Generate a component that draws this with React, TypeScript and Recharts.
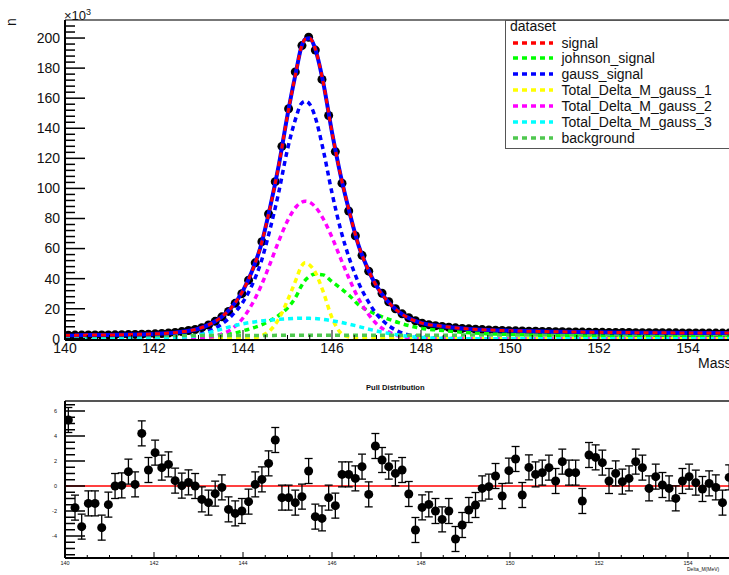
import { ComposedChart, Line, Scatter, XAxis, YAxis, ReferenceLine, ErrorBar } from 'recharts'

const FONT = '"Liberation Sans", Arial, Helvetica, sans-serif'

// Fit components sampled along Mass, n in units of 10^3
const curveMass = [
  140, 140.5, 141, 141.5, 142, 142.5, 143, 143.25, 143.5, 143.75,
  144, 144.2, 144.4, 144.6, 144.8, 145, 145.2, 145.3, 145.4, 145.5,
  145.6, 145.8, 146, 146.2, 146.4, 146.6, 146.8, 147, 147.25, 147.5,
  147.75, 148, 148.5, 149, 149.5, 150, 151, 152, 153, 154, 155,
]
const signalCurve = [
  2.4, 2.45, 2.55, 2.85, 3.25, 4.25, 6.7, 9.6, 14.1, 21.15,
  32.05, 44.75, 61.75, 86.25, 114.8, 148.8, 178.8, 192.8, 199.3, 199.8,
  194.8, 170.8, 137.3, 107.85, 83.35, 61.85, 46.85, 35.05, 24.95, 17.9,
  13.4, 10.6, 8.2, 6.75, 5.85, 5.35, 4.7, 4.3, 4.05, 3.9, 3.8,
]
const johnsonCurve = [
  0.3, 0.35, 0.45, 0.6, 0.8, 1.2, 1.7, 2.1, 2.6, 3.4,
  5.3, 7, 9, 12, 15.5, 20.5, 28.5, 34.5, 39, 41.5,
  43, 42.5, 38, 33.5, 28.5, 22.5, 19, 16.2, 13.3, 10.7,
  8.6, 7.0, 5.5, 4.2, 3.4, 2.9, 2.2, 1.8, 1.5, 1.35, 1.2,
]
const gaussSignalCurve = [
  0, 0, 0, 0.1, 0.3, 0.85, 2.8, 5.3, 9.3, 15.5,
  24.5, 35.5, 50.5, 72, 97, 126, 148, 156, 158, 156,
  149.5, 126, 97, 72, 52.5, 37, 25.5, 16.5, 9.3, 4.8,
  2.4, 1.2, 0.3, 0.1, 0, 0, 0, 0, 0, 0, 0,
]
const gauss1Curve = [
  0, 0, 0, 0, 0, 0, 0, 0, 0, 0,
  0.1, 0.4, 1.8, 5.3, 13, 25.5, 40, 47.5, 50.5, 49,
  45.5, 31.5, 14, 3.8, 1.0, 0.2, 0, 0, 0, 0,
  0, 0, 0, 0, 0, 0, 0, 0, 0, 0, 0,
]
const gauss2Curve = [
  0, 0, 0, 0, 0, 0.05, 0.4, 1.1, 2.8, 6.6,
  13.8, 22.8, 34.8, 49.3, 64.7, 78.4, 88, 90.5, 91.5, 90.8,
  88.5, 80, 67.5, 53, 39, 26.5, 17, 10, 4.8, 2.0,
  0.8, 0.3, 0.05, 0, 0, 0, 0, 0, 0, 0, 0,
]
const gauss3Curve = [
  0, 0, 0, 0.1, 0.3, 0.8, 2.4, 4.2, 6.3, 8.3,
  10, 11, 11.8, 12.4, 12.9, 13.3, 13.6, 13.7, 13.7, 13.6,
  13.5, 12.9, 12, 10.9, 9.6, 8.2, 6.6, 5.2, 3.7, 2.5,
  1.5, 0.9, 0.3, 0.1, 0, 0, 0, 0, 0, 0, 0,
]
const backgroundCurve = [
  2.1, 2.1, 2.1, 2.15, 2.15, 2.2, 2.2, 2.2, 2.2, 2.25,
  2.25, 2.25, 2.25, 2.25, 2.3, 2.3, 2.3, 2.3, 2.3, 2.3,
  2.3, 2.3, 2.3, 2.35, 2.35, 2.35, 2.35, 2.35, 2.35, 2.4,
  2.4, 2.4, 2.4, 2.45, 2.45, 2.45, 2.5, 2.5, 2.55, 2.55, 2.6,
]

// Histogram: 100 bins of 0.15 between 140 and 155
const BIN_START = 140
const BIN_WIDTH = 0.15
const binCounts = [
  2.4, 2.45, 2.45, 2.5, 2.5, 2.55, 2.6, 2.65, 2.75, 2.8,
  2.9, 3.0, 3.1, 3.3, 3.5, 3.8, 4.2, 4.8, 5.5, 6.2,
  7.4, 9.2, 11.6, 14.6, 18.2, 23.6, 30.0, 39.0, 50.5, 64.6,
  83.0, 104.5, 128.0, 153.0, 177.5, 195.0, 200.5, 192.0, 172.5, 148.5,
  124.5, 103.5, 85.0, 68.5, 55.5, 45.0, 36.8, 30.3, 24.6, 20.0,
  16.6, 14.0, 12.0, 10.4, 9.4, 8.7, 8.2, 7.7, 7.3, 6.9,
  6.6, 6.35, 6.1, 5.9, 5.7, 5.55, 5.4, 5.3, 5.2, 5.1,
  5.0, 4.9, 4.8, 4.7, 4.65, 4.6, 4.5, 4.45, 4.4, 4.35,
  4.3, 4.25, 4.2, 4.2, 4.15, 4.1, 4.1, 4.05, 4.0, 4.0,
  3.95, 3.95, 3.9, 3.9, 3.85, 3.85, 3.8, 3.8, 3.8, 3.8,
]
const pulls = [
  5.28, -1.73, -3.25, -1.39, -1.39, -3.33, -1.49, 0.0, 0.05, 1.15,
  0.13, 4.21, 1.28, 2.67, 1.47, 1.73, 0.43, 0.03, 0.29, 0.0,
  -1.07, -1.33, -0.61, -0.11, -1.87, -2.19, -2.0, -1.25, 0.13, 0.53,
  1.81, 3.68, -0.93, -0.93, -1.33, -0.85, 1.2, -2.45, -2.59, -0.93,
  -1.57, 0.93, 0.93, 0.61, 1.55, -0.67, 3.2, 2.08, 1.55, 1.01,
  1.28, -0.64, -3.52, -1.71, -1.47, -2.0, -2.67, -2.0, -4.24, -3.12,
  -1.92, -1.52, -0.19, -0.05, 0.8, -0.8, 1.23, 2.16, -0.72, 1.49,
  0.93, 1.07, 1.47, 0.4, 1.95, 1.07, 1.07, -1.2, 2.48, 2.29,
  1.87, 0.4, 1.01, 0.35, 0.61, 1.95, 1.47, -0.19, 0.75, 0.08,
  -0.19, -0.99, 0.4, 0.75, 0.27, -0.24, 0.21, -0.11, -1.33, 0.69,
]

const massLabels = [140, 142, 144, 146, 148, 150, 152, 154]
const countLabels = [0, 20, 40, 60, 80, 100, 120, 140, 160, 180, 200]
const pullLabels = [-4, -2, 0, 2, 4, 6]

const series = [
  { key: 'signal', name: 'signal', color: '#ff0000' },
  { key: 'johnson', name: 'johnson_signal', color: '#00ff00' },
  { key: 'gauss', name: 'gauss_signal', color: '#0000ff' },
  { key: 'g1', name: 'Total_Delta_M_gauss_1', color: '#ffff00' },
  { key: 'g2', name: 'Total_Delta_M_gauss_2', color: '#ff00ff' },
  { key: 'g3', name: 'Total_Delta_M_gauss_3', color: '#00ffff' },
  { key: 'bkg', name: 'background', color: '#4fc84f' },
]
const colorOf = (k: string) => series.find((s) => s.key === k)!.color

const curveRows = curveMass.map((mass, i) => ({
  mass,
  signal: signalCurve[i],
  johnson: johnsonCurve[i],
  gauss: gaussSignalCurve[i],
  g1: gauss1Curve[i],
  g2: gauss2Curve[i],
  g3: gauss3Curve[i],
  bkg: backgroundCurve[i],
}))
const binRows = binCounts.map((n, i) => ({ mass: BIN_START + BIN_WIDTH * (i + 0.5), n }))
const pullRows = pulls.map((pull, i) => ({ mass: BIN_START + BIN_WIDTH * (i + 0.5), pull, err: 1 }))

// tick positions: labelled majors plus unlabelled minors
const steps = (from: number, to: number, step: number) => {
  const out: number[] = []
  for (let v = from; v <= to + 1e-9; v += step) out.push(Math.round(v * 100) / 100)
  return out
}
const massTicks = steps(140, 155, 0.5)
const countTicks = steps(0, 208, 4)
const pullTicks = steps(-5.5, 6.5, 0.5)

const isLabel = (list: number[], v: number) => list.some((l) => Math.abs(l - v) < 1e-6)

const xTick = (majorLen: number, minorLen: number, fontSize: number, dy: number) => (p: any) => {
  const v = p.payload.value
  const major = isLabel(massLabels, v)
  return (
    <g>
      <line x1={p.x} x2={p.x} y1={p.y} y2={p.y - (major ? majorLen : minorLen)} stroke="#000" strokeWidth={1} />
      {major && (
        <text x={p.x} y={p.y + dy} textAnchor="middle" fontSize={fontSize} fontFamily={FONT} fill="#111">
          {v}
        </text>
      )}
    </g>
  )
}

const yTick = (labels: number[], majorLen: number, minorLen: number, fontSize: number, dx: number) => (p: any) => {
  const v = p.payload.value
  const major = isLabel(labels, v)
  return (
    <g>
      <line x1={p.x} x2={p.x + (major ? majorLen : minorLen)} y1={p.y} y2={p.y} stroke="#000" strokeWidth={1.5} />
      {major && (
        <text x={p.x - dx} y={p.y} dy="0.35em" textAnchor="end" fontSize={fontSize} fontFamily={FONT} fill="#111">
          {v}
        </text>
      )}
    </g>
  )
}

const Dot = (r: number) => (p: any) => <circle cx={p.cx} cy={p.cy} r={r} fill="#000" />

function DatasetLegend() {
  return (
    <div
      style={{
        position: 'absolute', left: 505, top: 20, width: 240, height: 129,
        border: '1.5px solid #555', background: '#fff', boxSizing: 'border-box',
      }}
    >
      <div style={{ position: 'absolute', left: 4, top: -3, fontSize: 14, lineHeight: '16px' }}>dataset</div>
      {series.map((s, i) => (
        <div key={s.key} style={{ position: 'absolute', left: 0, top: 13.5 + i * 15.85, height: 16, display: 'flex', alignItems: 'center' }}>
          <svg width={50} height={16}>
            <line x1={7} x2={47} y1={8} y2={8} stroke={s.color} strokeWidth={3.5} strokeDasharray="5 4" />
          </svg>
          <span style={{ fontSize: 14, lineHeight: '16px', marginLeft: 5.5 }}>{s.name}</span>
        </div>
      ))}
    </div>
  )
}

const dashed = { type: 'monotone' as const, dot: false, activeDot: false, isAnimationActive: false, strokeWidth: 3.5, strokeDasharray: '5 4' }

export default function App() {
  return (
    <div style={{ position: 'absolute', left: 0, top: 0, width: 729, height: 575, overflow: 'hidden', background: '#fff', fontFamily: FONT, color: '#111' }}>
      <div style={{ position: 'absolute', left: 0, top: 0 }}>
        <ComposedChart width={745} height={380} data={curveRows} margin={{ top: 20, right: 12.5, bottom: 10, left: 0 }}>
          <XAxis
            dataKey="mass" type="number" domain={[140, 155]} ticks={massTicks} interval={0}
            tick={xTick(10, 5, 14, 13)} tickSize={0} tickMargin={0} tickLine={false} height={30}
            axisLine={{ stroke: '#000', strokeWidth: 2 }} allowDataOverflow
          />
          <YAxis
            type="number" domain={[-0.8, 212]} ticks={countTicks} interval={0} width={65}
            tick={yTick(countLabels, 20, 10, 14, 5)} tickSize={0} tickMargin={0} tickLine={false}
            axisLine={{ stroke: '#000', strokeWidth: 2 }} allowDataOverflow
          />
          <ReferenceLine y={212} stroke="#777" strokeWidth={2} />
          <Scatter data={binRows} dataKey="n" isAnimationActive={false} shape={Dot(4.5)} zIndex={100} />
          {['johnson', 'gauss', 'g1', 'g2', 'g3', 'bkg'].map((k) => (
            <Line key={k} dataKey={k} stroke={colorOf(k)} {...dashed} />
          ))}
          <Line dataKey="signal" type="monotone" stroke="#0000ff" strokeWidth={4} dot={false} activeDot={false} isAnimationActive={false} />
          <Line dataKey="signal" stroke={colorOf('signal')} {...dashed} strokeWidth={3} />
        </ComposedChart>
      </div>

      <div style={{ position: 'absolute', left: 0, top: 380 }}>
        <ComposedChart width={745} height={195} margin={{ top: 21, right: 12.5, bottom: 0, left: 0 }}>
          <XAxis
            dataKey="mass" type="number" domain={[140, 155]} ticks={massTicks} interval={0}
            tick={xTick(6, 3, 5.5, 7)} tickSize={0} tickMargin={0} tickLine={false} height={17}
            axisLine={{ stroke: '#000', strokeWidth: 2 }} allowDataOverflow
          />
          <YAxis
            type="number" domain={[-5.76, 6.8]} ticks={pullTicks} interval={0} width={65}
            tick={yTick(pullLabels, 20, 10, 5.5, 8)} tickSize={0} tickMargin={0} tickLine={false}
            axisLine={{ stroke: '#000', strokeWidth: 2 }} allowDataOverflow
          />
          <ReferenceLine y={6.8} stroke="#555" strokeWidth={2} />
          <ReferenceLine y={0} stroke="#ff0000" strokeWidth={1.5} />
          <Scatter data={pullRows} dataKey="pull" isAnimationActive={false} shape={Dot(4.5)}>
            <ErrorBar dataKey="err" direction="y" width={4} stroke="#000" strokeWidth={1.3} isAnimationActive={false} />
          </Scatter>
        </ComposedChart>
      </div>

      <DatasetLegend />

      <div style={{ position: 'absolute', left: 7, top: 14, fontSize: 14, lineHeight: '16px', transform: 'rotate(-90deg)' }}>n</div>
      <div style={{ position: 'absolute', left: 64, top: 5, fontSize: 13, lineHeight: '14px' }}>
        ×10<sup style={{ fontSize: 9, verticalAlign: '5px' }}>3</sup>
      </div>
      <div style={{ position: 'absolute', left: 698, top: 355, fontSize: 14, lineHeight: '16px' }}>Mass</div>
      <div style={{ position: 'absolute', left: 366, top: 384, fontSize: 7.6, fontWeight: 'bold', lineHeight: '8px', whiteSpace: 'nowrap' }}>Pull Distribution</div>
      <div style={{ position: 'absolute', left: 687, top: 566, fontSize: 5, lineHeight: '6px', whiteSpace: 'nowrap' }}>Delta_M(MeV)</div>
    </div>
  )
}
